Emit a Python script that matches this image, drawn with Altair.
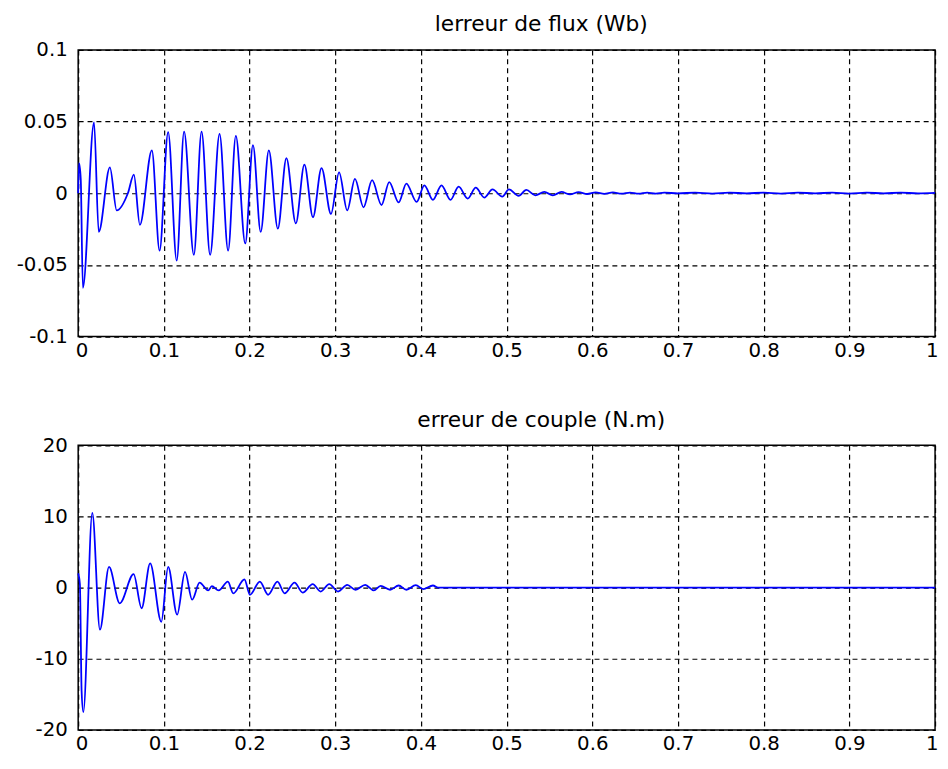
import altair as alt
import pandas as pd

# ---- data ----
T_FLUX = [0.0, 0.001, 0.003, 0.0055, 0.0185, 0.024, 0.037, 0.045, 0.058, 0.065, 0.072,
          0.086, 0.095, 0.105, 0.115, 0.1236, 0.135, 0.144, 0.154, 0.165, 0.175, 0.184,
          0.195, 0.204, 0.213, 0.2225, 0.233, 0.243, 0.254, 0.264, 0.274, 0.284, 0.295,
          0.3045, 0.314, 0.323, 0.333, 0.343, 0.354, 0.363, 0.374, 0.383, 0.395, 0.404,
          0.414, 0.424, 0.4345, 0.444, 0.4546, 0.464, 0.474, 0.4835, 0.495, 0.5027,
          0.514, 0.523, 0.5335, 0.544, 0.554, 0.564, 0.574, 0.584, 0.594, 0.604, 0.614,
          0.624, 0.634, 0.644, 0.654, 0.664, 0.674, 0.684, 0.70, 0.72, 0.74, 0.76, 0.78,
          0.80, 0.82, 0.84, 0.86, 0.88, 0.90, 0.92, 0.94, 0.96, 0.98, 1.0]
FLUX = [0.0, 0.021, 0.010, -0.066, 0.0495, -0.027, 0.018, -0.012, 0.0, 0.013, -0.022,
        0.030, -0.040, 0.0427, -0.047, 0.043, -0.043, 0.043, -0.043, 0.0415, -0.040, 0.040,
        -0.035, 0.0336, -0.027, 0.030, -0.0247, 0.0245, -0.021, 0.020, -0.0167, 0.0176, -0.0144,
        0.0146, -0.012, 0.010, -0.0098, 0.0091, -0.0082, 0.0078, -0.0064, 0.0068, -0.006, 0.0055,
        -0.0046, 0.0055, -0.0046, 0.0046, -0.0037, 0.0039, -0.003, 0.0027, -0.0023, 0.0027,
        -0.0018, 0.0023, -0.0014, 0.0009, -0.0014, 0.0009, -0.0008, 0.0008, -0.0005, 0.0007, -0.0004,
        0.0006, -0.0003, 0.0005, -0.0003, 0.0005, -0.0002, 0.0004, 0.0, 0.0004, -0.0002, 0.0004, 0.0,
        0.0004, -0.0002, 0.0004, 0.0, 0.0004, -0.0002, 0.0004, 0.0, 0.0004, 0.0, 0.0003]

T_COUPLE = [0.0, 0.002, 0.004, 0.006, 0.0165, 0.0254, 0.036, 0.0485, 0.0647, 0.074, 0.084,
            0.097, 0.105, 0.1155, 0.1247, 0.133, 0.1417, 0.1517, 0.156, 0.164, 0.1747, 0.181,
            0.194, 0.2005, 0.212, 0.2217, 0.2325, 0.241, 0.2525, 0.262, 0.2737, 0.283, 0.293,
            0.3033, 0.314, 0.3237, 0.335, 0.345, 0.353, 0.364, 0.374, 0.383, 0.394, 0.4027,
            0.414, 0.42, 1.0]
COUPLE = [2.0, 0.5, -14.5, -17.5, 10.5, -5.9, 2.9, -2.2, 1.9, -2.9, 3.4,
          -4.8, 2.9, -3.8, 2.2, -1.7, 0.7, -0.4, 0.2, -0.4, 0.84, -0.8,
          1.17, -1.0, 0.84, -1.0, 0.84, -0.8, 0.7, -0.7, 0.5, -0.55, 0.5,
          -0.55, 0.38, -0.3, 0.38, -0.4, 0.24, -0.3, 0.3, -0.3, 0.35, -0.2,
          0.3, 0.0, 0.0]

X_TICKS = [0, 0.1, 0.2, 0.3, 0.4, 0.5, 0.6, 0.7, 0.8, 0.9, 1]
FLUX_TICKS = [-0.1, -0.05, 0, 0.05, 0.1]
COUPLE_TICKS = [-20, -10, 0, 10, 20]
TITLE_FLUX = "lerreur de flux (Wb)"
TITLE_COUPLE = "erreur de couple (N.m)"


def panel(t, v, yticks, title, height):
    df = pd.DataFrame({"t": t, "v": v})
    return (
        alt.Chart(df, title=alt.TitleParams(title, dx=35, offset=4))
        .mark_line(color="#0000ff", strokeWidth=1.8, interpolate="monotone")
        .encode(
            x=alt.X("t:Q", scale=alt.Scale(domain=[0, 1], nice=False, zero=False),
                    axis=alt.Axis(values=X_TICKS, labelExpr="'' + datum.value", title=None)),
            y=alt.Y("v:Q", scale=alt.Scale(domain=[yticks[0], yticks[-1]], nice=False),
                    axis=alt.Axis(values=yticks, labelExpr="'' + datum.value", title=None)),
        )
        .properties(width=867, height=height)
    )


chart = (
    alt.vconcat(panel(T_FLUX, FLUX, FLUX_TICKS, TITLE_FLUX, 290),
                panel(T_COUPLE, COUPLE, COUPLE_TICKS, TITLE_COUPLE, 288),
                spacing=47)
    .properties(padding={"left": 0, "top": 0, "right": 0, "bottom": 5}, background="white")
    .configure_view(stroke="black", strokeWidth=1.5)
    .configure_axis(grid=True, gridColor="black", gridDash=[5, 4], gridOpacity=1, gridWidth=1.2,
                    domain=False, ticks=False, labelFont="DejaVu Sans", labelFontSize=20,
                    labelColor="black")
    .configure_axisY(labelPadding=11, minExtent=70, maxExtent=70)
    .configure_axisX(labelPadding=4, labelFlush=True, labelFlushOffset=3)
    .configure_title(font="DejaVu Sans", fontSize=22, fontWeight="normal", color="black",
                     anchor="middle")
)

chart.save("out.html", embed_options={"renderer": "svg", "actions": False})
